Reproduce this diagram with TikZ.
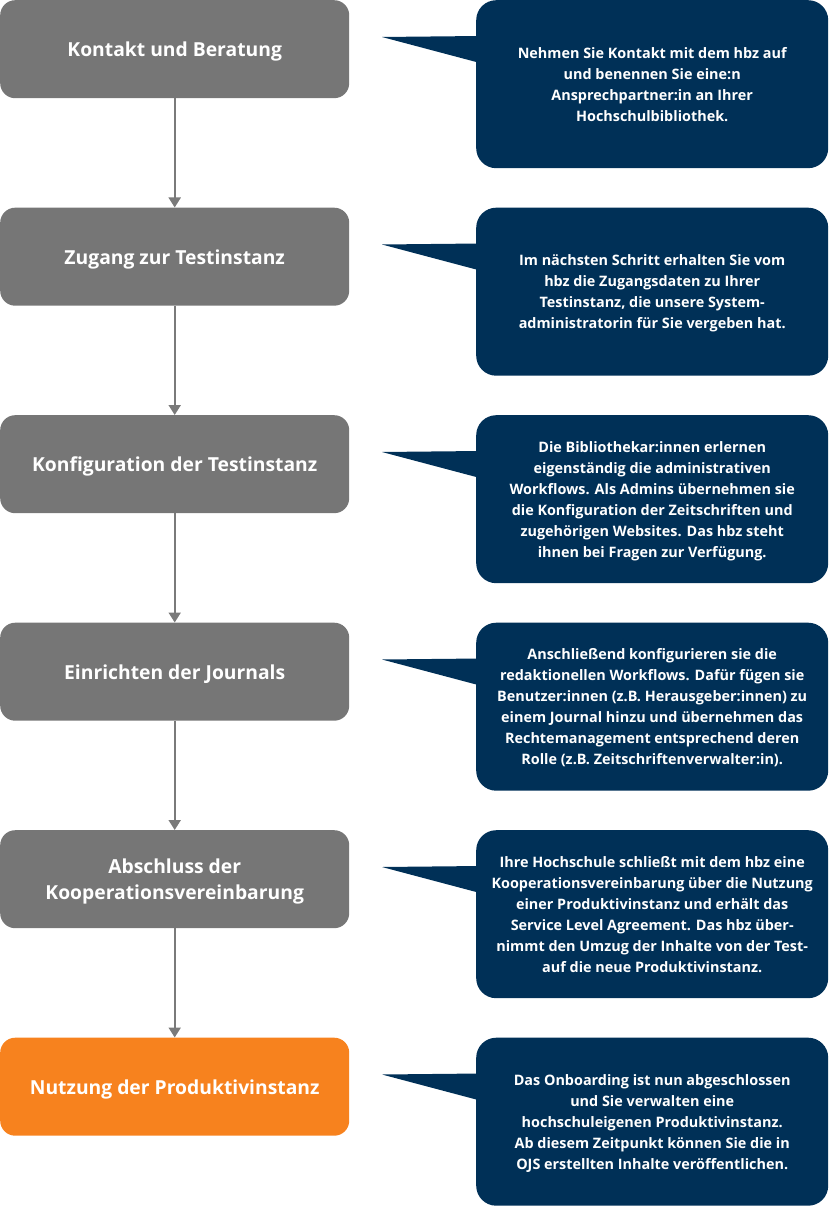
\documentclass[tikz,border=0pt]{standalone}
\usepackage{fontspec}
\setmainfont{Open Sans}
\usetikzlibrary{arrows.meta}
\definecolor{stepgray}{HTML}{767676}
\definecolor{navy}{HTML}{003057}
\definecolor{hbzorange}{HTML}{F7821E}
\definecolor{arrowgray}{HTML}{7A7A7A}
\begin{document}
\begin{tikzpicture}[x=1pt,y=1pt,
 stepbox/.style={fill=stepgray, rounded corners=15pt, minimum width=349pt, minimum height=98pt, anchor=north west, text=white, font=\fontsize{19.3}{26}\selectfont\bfseries, align=center, inner sep=0pt, text depth=0pt},
 laststep/.style={stepbox, fill=hbzorange},
 infobox/.style={fill=navy, rounded corners=20pt, minimum width=352pt, minimum height=168pt, anchor=north west, text=white, font=\fontsize{14.4}{21}\selectfont\bfseries, align=center, inner sep=0pt, text depth=0pt},
 flow/.style={draw=arrowgray, line width=2pt, -{Triangle[width=12pt,length=10pt]}},
 pointer/.style={fill=navy},
]
\useasboundingbox (0,0) rectangle (828,-1206);

\node[stepbox] (s1) at (0,0) {Kontakt und Beratung};
\node[stepbox] (s2) at (0,-207.5) {Zugang zur Testinstanz};
\node[stepbox] (s3) at (0,-415) {Konfiguration der Testinstanz};
\node[stepbox] (s4) at (0,-622.5) {Einrichten der Journals};
\node[stepbox] (s5) at (0,-830) {Abschluss der\\Kooperationsvereinbarung};
\node[laststep] (s6) at (0,-1037.5) {Nutzung der Produktivinstanz};

\node[infobox] (i1) at (476,0) {Nehmen Sie Kontakt mit dem hbz auf\\und benennen Sie eine:n\\Ansprechpartner:in an Ihrer\\Hochschulbibliothek.};
\node[infobox] (i2) at (476,-207.5) {Im nächsten Schritt erhalten Sie vom\\hbz die Zugangsdaten zu Ihrer\\Testinstanz, die unsere System-\\administratorin für Sie vergeben hat.};
\node[infobox] (i3) at (476,-415) {Die Bibliothekar:innen erlernen\\eigenständig die administrativen\\Workflows. Als Admins übernehmen sie\\die Konfiguration der Zeitschriften und\\zugehörigen Websites. Das hbz steht\\ihnen bei Fragen zur Verfügung.};
\node[infobox] (i4) at (476,-622.5) {Anschließend konfigurieren sie die\\redaktionellen Workflows. Dafür fügen sie\\Benutzer:innen (z.B. Herausgeber:innen) zu\\einem Journal hinzu und übernehmen das\\Rechtemanagement entsprechend deren\\Rolle (z.B. Zeitschriftenverwalter:in).};
\node[infobox] (i5) at (476,-830) {Ihre Hochschule schließt mit dem hbz eine\\Kooperationsvereinbarung über die Nutzung\\einer Produktivinstanz und erhält das\\Service Level Agreement. Das hbz über-\\nimmt den Umzug der Inhalte von der Test-\\auf die neue Produktivinstanz.};
\node[infobox] (i6) at (476,-1037.5) {Das Onboarding ist nun abgeschlossen\\und Sie verwalten eine\\hochschuleigenen Produktivinstanz.\\Ab diesem Zeitpunkt können Sie die in\\OJS erstellten Inhalte veröffentlichen.};

\foreach \i in {1,...,6}{
  \fill[pointer] ([shift={(-94,-37)}]i\i.north west) -- ([shift={(4,-36)}]i\i.north west) -- ([shift={(4,-63)}]i\i.north west) -- cycle;
}

\draw[flow] (s1.south) -- (s2.north);
\draw[flow] (s2.south) -- (s3.north);
\draw[flow] (s3.south) -- (s4.north);
\draw[flow] (s4.south) -- (s5.north);
\draw[flow] (s5.south) -- (s6.north);
\end{tikzpicture}
\end{document}
